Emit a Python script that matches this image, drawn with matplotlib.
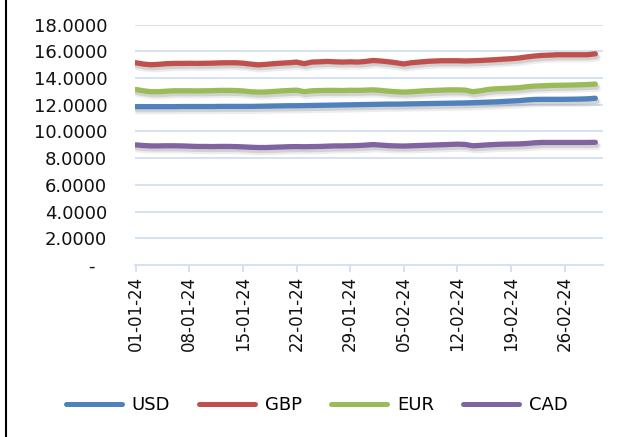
import matplotlib
matplotlib.use("Agg")
import matplotlib.pyplot as plt
import matplotlib.dates as mdates
import matplotlib.patheffects as pe
from matplotlib.lines import Line2D
import pandas as pd

start_date = "2024-01-01"
n_days = 61
dates = pd.date_range(start_date, periods=n_days, freq="D")

usd = [11.86, 11.86, 11.86, 11.86, 11.86, 11.86, 11.87, 11.87, 11.87, 11.87, 11.87,
       11.88, 11.88, 11.88, 11.88, 11.88, 11.89, 11.90, 11.91, 11.92, 11.93,
       11.93, 11.94, 11.95, 11.96, 11.97, 11.98, 11.99, 12.00, 12.01, 12.02,
       12.03, 12.04, 12.05, 12.05, 12.06, 12.07, 12.08, 12.09, 12.10, 12.11,
       12.12, 12.13, 12.14, 12.16, 12.18, 12.20, 12.22, 12.25, 12.28, 12.31,
       12.36, 12.40, 12.41, 12.41, 12.41, 12.41, 12.42, 12.43, 12.45, 12.49]
gbp = [15.15, 15.05, 15.00, 15.03, 15.08, 15.10, 15.10, 15.11, 15.10, 15.11, 15.12,
       15.14, 15.15, 15.15, 15.12, 15.05, 14.99, 15.03, 15.08, 15.12, 15.15,
       15.20, 15.08, 15.20, 15.22, 15.25, 15.22, 15.20, 15.22, 15.20, 15.25,
       15.32, 15.28, 15.22, 15.15, 15.06, 15.15, 15.20, 15.25, 15.28, 15.30,
       15.30, 15.30, 15.28, 15.30, 15.32, 15.35, 15.38, 15.42, 15.45, 15.50,
       15.58, 15.65, 15.70, 15.72, 15.75, 15.75, 15.75, 15.75, 15.75, 15.82]
eur = [13.15, 13.05, 12.98, 12.98, 13.02, 13.05, 13.05, 13.05, 13.04, 13.05, 13.06,
       13.08, 13.08, 13.07, 13.04, 12.98, 12.95, 12.96, 13.00, 13.04, 13.07,
       13.10, 12.98, 13.05, 13.07, 13.08, 13.08, 13.07, 13.09, 13.08, 13.10,
       13.12, 13.08, 13.02, 12.98, 12.95, 12.98, 13.02, 13.06, 13.08, 13.10,
       13.12, 13.12, 13.10, 12.98, 13.05, 13.15, 13.20, 13.22, 13.25, 13.28,
       13.35, 13.40, 13.42, 13.45, 13.46, 13.47, 13.48, 13.50, 13.52, 13.55]
cad = [9.00, 8.95, 8.92, 8.92, 8.93, 8.93, 8.92, 8.90, 8.88, 8.88, 8.87,
       8.88, 8.88, 8.87, 8.85, 8.82, 8.80, 8.80, 8.82, 8.84, 8.86,
       8.87, 8.86, 8.87, 8.88, 8.90, 8.92, 8.92, 8.93, 8.95, 8.98,
       9.02, 8.98, 8.94, 8.92, 8.91, 8.93, 8.95, 8.97, 8.99, 9.01,
       9.03, 9.05, 9.03, 8.93, 8.96, 9.00, 9.03, 9.05, 9.06, 9.07,
       9.10, 9.15, 9.18, 9.18, 9.18, 9.18, 9.18, 9.18, 9.18, 9.19]

series_names = ["USD", "GBP", "EUR", "CAD"]
series_values = [usd, gbp, eur, cad]
series_colors = ["#4F81BD", "#C0504D", "#9BBB59", "#8064A2"]

y_ticks = [0, 2, 4, 6, 8, 10, 12, 14, 16, 18]
y_tick_labels = ["-  ", "2.0000", "4.0000", "6.0000", "8.0000", "10.0000",
                 "12.0000", "14.0000", "16.0000", "18.0000"]

plt.rcParams["font.family"] = ["DejaVu Sans"]

fig = plt.figure(figsize=(6.27, 4.37), dpi=100)
ax = fig.add_axes([0.2153, 0.3936, 0.9617 - 0.2153, 0.9435 - 0.3936])

grid_color = "#D6E2F1"
shadow = [pe.SimpleLineShadow(offset=(1.5, -3.0), shadow_color="#8a8a8a", alpha=0.15, linewidth=5.0),
          pe.SimpleLineShadow(offset=(1.0, -2.0), shadow_color="#7f7f7f", alpha=0.25, linewidth=4.0),
          pe.Normal()]

for name, vals, col in zip(series_names, series_values, series_colors):
    ax.plot(dates, vals, color=col, lw=3.8, solid_capstyle="round",
            solid_joinstyle="round", label=name, path_effects=shadow, zorder=3)

ax.set_ylim(0, 18)
ax.set_yticks(y_ticks)
ax.set_yticklabels(y_tick_labels)
ax.set_xlim(dates[0] - pd.Timedelta(hours=2), dates[0] + pd.Timedelta(days=61))
ax.set_xticks(pd.date_range(start_date, periods=9, freq="7D"))
ax.xaxis.set_major_formatter(mdates.DateFormatter("%d-%m-%y"))

ax.grid(axis="y", color=grid_color, lw=1.4, zorder=0)
ax.set_axisbelow(True)
for s in ["top", "right", "left"]:
    ax.spines[s].set_visible(False)
ax.spines["bottom"].set_color(grid_color)
ax.spines["bottom"].set_linewidth(1.4)

ax.tick_params(axis="y", length=0, pad=20, labelsize=13, labelcolor="#111111")
ax.tick_params(axis="x", length=5, width=1.4, color=grid_color, pad=3,
               labelsize=12, labelrotation=90, labelcolor="#111111")

handles = [Line2D([0], [0], color=c, lw=3.6, solid_capstyle="round") for c in series_colors]
fig.legend(handles, series_names, loc="center", bbox_to_anchor=(0.505, 0.073), ncol=4,
           frameon=False, fontsize=13, handlelength=3.1, handletextpad=0.55,
           columnspacing=1.6)

fig.add_artist(Line2D([0.009, 0.009], [0, 1], color="black", lw=1.5, transform=fig.transFigure))

fig.savefig("out.png", dpi=100)
